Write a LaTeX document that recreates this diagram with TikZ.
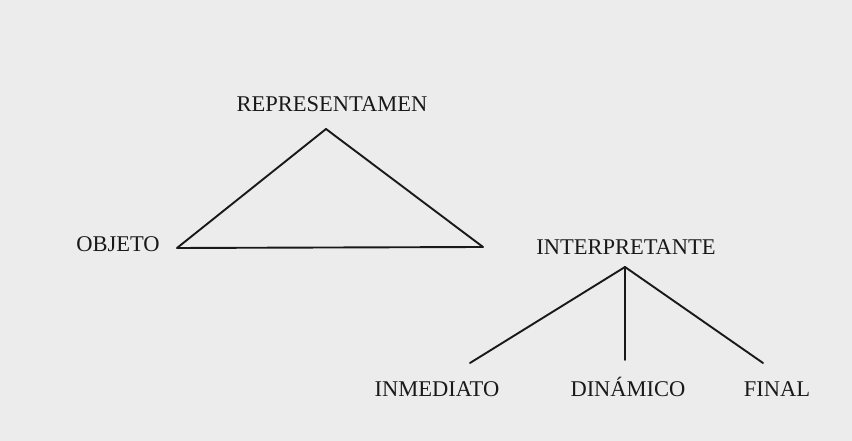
\documentclass[tikz,border=0pt]{standalone}
\usepackage{fontspec}
\setmainfont{Liberation Serif}
\definecolor{paper}{RGB}{236,236,236}
\definecolor{ink}{RGB}{25,25,25}
\begin{document}
\begin{tikzpicture}[x=1pt,y=1pt,
  lbl/.style={font=\fontsize{22.5}{26}\selectfont, text=ink, inner sep=0pt, anchor=base},
  edge/.style={draw=ink, line width=1.9pt, line join=round, line cap=round}]
\fill[paper] (0,0) rectangle (852,441);
\useasboundingbox (0,0) rectangle (852,441);
% labels
\node[lbl] (rep) at (332,329) {REPRESENTAMEN};
\node[lbl] (obj) at (118,189) {OBJETO};
\node[lbl] (int) at (626,186) {INTERPRETANTE};
\node[lbl] (inm) at (437,44) {INMEDIATO};
\node[lbl] (din) at (628,44) {DINÁMICO};
\node[lbl] (fin) at (777,44) {FINAL};
% vertices
\coordinate (top) at (326,312);
\coordinate (left) at (177,193);
\coordinate (right) at (483,194);
\coordinate (br) at (625,174);
\coordinate (einm) at (470,78);
\coordinate (edin) at (625,81);
\coordinate (efin) at (763,78);
% triangle
\draw[edge] (top) -- (right) -- (left) -- cycle;
% branches
\draw[edge] (br) -- (einm);
\draw[edge] (br) -- (edin);
\draw[edge] (br) -- (efin);
\end{tikzpicture}
\end{document}
